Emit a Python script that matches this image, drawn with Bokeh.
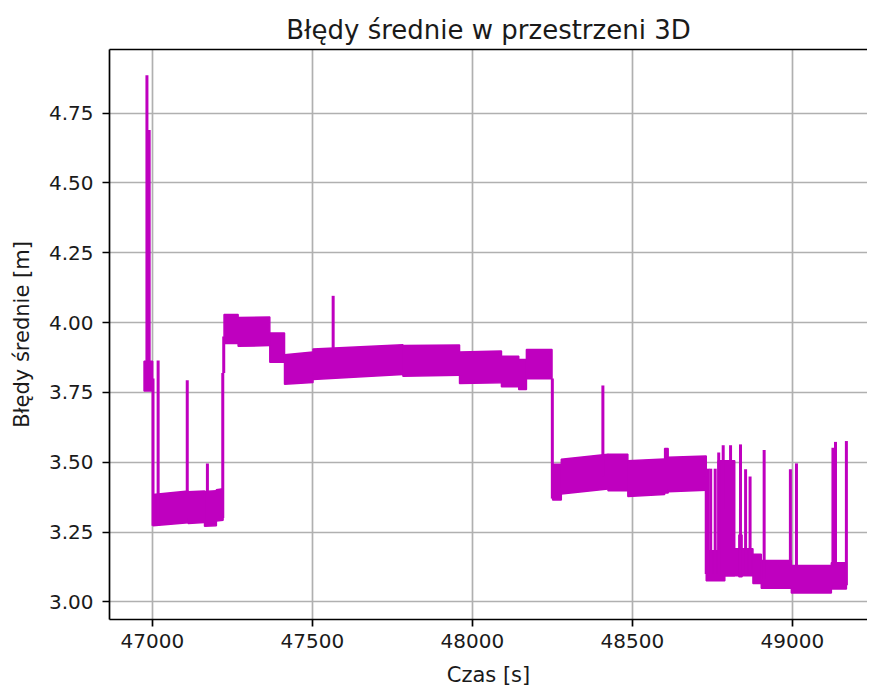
from bokeh.plotting import figure
from bokeh.models import FixedTicker, Range1d, NumeralTickFormatter, LinearAxis
from bokeh.embed import file_html
from bokeh.resources import INLINE

# ---- data ----
# band segments: start time, end time, lower value at start/end, upper value at start/end
seg_t0 = [46974, 47002, 47112, 47163, 47200, 47224, 47268, 47367, 47413, 47502, 47783, 47960,
          48091, 48145, 48169, 48251, 48278, 48424, 48486, 48601, 48612, 48731, 48768, 48789,
          48833, 48877, 48903, 48997, 49122]
seg_t1 = [47001, 47112, 47163, 47200, 47221, 47268, 47367, 47413, 47502, 47783, 47960, 48091,
          48145, 48169, 48249, 48278, 48424, 48486, 48601, 48612, 48731, 48789, 48820, 48877,
          48843, 48903, 48997, 49122, 49169]
seg_lo0 = [3.755, 3.273, 3.281, 3.271, 3.290, 3.925, 3.915, 3.858, 3.779, 3.796, 3.808, 3.782,
           3.770, 3.761, 3.799, 3.365, 3.386, 3.398, 3.377, 3.390, 3.394, 3.076, 3.094, 3.094,
           3.090, 3.066, 3.049, 3.032, 3.046]
seg_lo1 = [3.755, 3.283, 3.284, 3.273, 3.292, 3.925, 3.918, 3.858, 3.786, 3.814, 3.812, 3.785,
           3.770, 3.761, 3.799, 3.365, 3.404, 3.398, 3.385, 3.390, 3.400, 3.076, 3.094, 3.094,
           3.090, 3.066, 3.049, 3.032, 3.046]
seg_hi0 = [3.862, 3.385, 3.394, 3.395, 3.402, 4.029, 4.018, 3.963, 3.885, 3.906, 3.918, 3.895,
           3.880, 3.868, 3.904, 3.493, 3.511, 3.529, 3.505, 3.549, 3.518, 3.183, 3.505, 3.190,
           3.240, 3.171, 3.148, 3.130, 3.140]
seg_hi1 = [3.862, 3.397, 3.397, 3.398, 3.405, 4.029, 4.020, 3.963, 3.895, 3.921, 3.920, 3.898,
           3.880, 3.868, 3.904, 3.493, 3.529, 3.529, 3.512, 3.549, 3.522, 3.183, 3.505, 3.190,
           3.240, 3.171, 3.148, 3.130, 3.140]

# single spikes and jumps: time, from value, to value
spike_t = [46983, 46990, 47002, 47018, 47109, 47172, 47220, 47223, 47565, 48250, 48408,
           48731, 48737, 48745, 48759, 48770, 48784, 48807, 48838, 48854, 48868, 48912,
           48994, 49013, 49127, 49135, 49169]
spike_y0 = [3.80, 3.80, 3.273, 3.30, 3.30, 3.30, 3.30, 3.82, 3.88, 3.37, 3.45,
            3.10, 3.10, 3.10, 3.10, 3.10, 3.10, 3.10, 3.10, 3.10, 3.10, 3.08,
            3.06, 3.06, 3.06, 3.06, 3.06]
spike_y1 = [4.886, 4.690, 3.80, 3.864, 3.794, 3.496, 3.82, 3.95, 4.096, 3.80, 3.775,
            3.45, 3.477, 3.477, 3.477, 3.535, 3.561, 3.561, 3.564, 3.475, 3.449, 3.544,
            3.475, 3.496, 3.552, 3.573, 3.576]

x_ticks = [47000, 47500, 48000, 48500, 49000]
y_ticks = [3.00, 3.25, 3.50, 3.75, 4.00, 4.25, 4.50, 4.75]

COLOR = "#bf00bf"
FONT = "DejaVu Sans"
TXT = "#1a1a1a"

p = figure(width=867, height=689, output_backend="svg", toolbar_location=None,
           title="Błędy średnie w przestrzeni 3D",
           x_range=Range1d(46866, 49235), y_range=Range1d(2.937, 4.978),
           min_border_left=109, min_border_right=0, min_border_top=49, min_border_bottom=68)

p.title.align = "center"
p.title.offset = 5
p.title.text_font = FONT
p.title.text_font_size = "26px"
p.title.text_font_style = "normal"
p.title.text_color = TXT
p.title.standoff = 10

xs = [[a, b, b, a] for a, b in zip(seg_t0, seg_t1)]
ys = [[l0, l1, h1, h0] for l0, l1, h0, h1 in zip(seg_lo0, seg_lo1, seg_hi0, seg_hi1)]
p.patches(xs, ys, fill_color=COLOR, line_color=COLOR, line_width=1.5)
p.segment(x0=spike_t, y0=spike_y0, x1=spike_t, y1=spike_y1, line_color=COLOR, line_width=3)

p.xaxis.ticker = FixedTicker(ticks=x_ticks)
p.yaxis.ticker = FixedTicker(ticks=y_ticks)
p.yaxis.formatter = NumeralTickFormatter(format="0.00")
p.xaxis.formatter = NumeralTickFormatter(format="0")

for ax in (p.xaxis, p.yaxis):
    ax.axis_line_color = "black"
    ax.axis_line_width = 1.7
    ax.major_tick_line_color = "black"
    ax.major_tick_line_width = 1.7
    ax.major_tick_out = 7
    ax.major_tick_in = 0
    ax.minor_tick_line_color = None
    ax.major_label_text_font = FONT
    ax.major_label_text_font_size = "20px"
    ax.major_label_text_color = TXT
    ax.axis_label_text_font = FONT
    ax.axis_label_text_font_size = "21px"
    ax.axis_label_text_font_style = "normal"
    ax.axis_label_text_color = TXT

p.xaxis.major_label_standoff = 7
p.xaxis.axis_label_standoff = 12
p.yaxis.major_label_standoff = 9
p.yaxis.axis_label_standoff = 12

p.xaxis.axis_label = "Czas [s]"
p.yaxis.axis_label = "Błędy średnie [m]"

# top spine only (the right spine lies outside the reference picture)
top = LinearAxis(ticker=FixedTicker(ticks=[]), major_label_text_font_size="0px",
                 axis_line_color="black", axis_line_width=1.7,
                 major_tick_line_color=None, minor_tick_line_color=None)
p.add_layout(top, "above")

p.grid.grid_line_color = "#b0b0b0"
p.grid.grid_line_width = 1.7
p.outline_line_color = None
p.background_fill_color = "white"
p.border_fill_color = "white"

open("out.html", "w").write(file_html(p, INLINE))
